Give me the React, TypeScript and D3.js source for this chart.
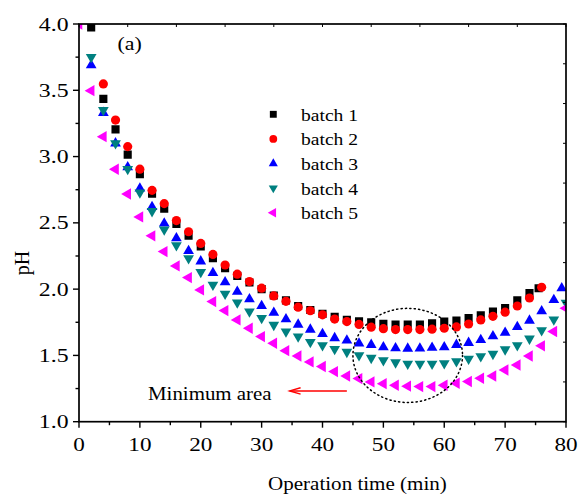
import React from "react";
import * as d3 from "d3";

// ---------- data ----------
const times1 = [2, 4, 6, 8, 10, 12, 14, 16, 18, 20, 22, 24, 26, 28, 30, 32, 34, 36, 38, 40, 42, 44, 46, 48, 50, 52, 54, 56, 58, 60, 62, 64, 66, 68, 70, 72, 74, 75.5];
const batch1 = [3.975, 3.435, 3.205, 3.015, 2.868, 2.72, 2.607, 2.492, 2.403, 2.322, 2.233, 2.158, 2.1, 2.05, 2.0, 1.952, 1.915, 1.873, 1.843, 1.813, 1.792, 1.768, 1.758, 1.75, 1.738, 1.732, 1.732, 1.732, 1.743, 1.755, 1.762, 1.782, 1.802, 1.83, 1.858, 1.916, 1.97, 2.007];

const times2 = [4, 6, 8, 10, 12, 14, 16, 18, 20, 22, 24, 26, 28, 30, 32, 34, 36, 38, 40, 42, 44, 46, 48, 50, 52, 54, 56, 58, 60, 62, 64, 66, 68, 70, 72, 74, 76];
const batch2 = [3.548, 3.275, 3.075, 2.905, 2.745, 2.645, 2.517, 2.433, 2.345, 2.262, 2.182, 2.113, 2.057, 2.007, 1.949, 1.908, 1.864, 1.837, 1.806, 1.774, 1.755, 1.734, 1.713, 1.702, 1.695, 1.695, 1.695, 1.698, 1.705, 1.715, 1.737, 1.768, 1.795, 1.826, 1.873, 1.933, 2.014];

const times3 = [2, 4, 6, 8, 10, 12, 14, 16, 18, 20, 22, 24, 26, 28, 30, 32, 34, 36, 38, 40, 42, 44, 46, 48, 50, 52, 54, 56, 58, 60, 62, 64, 66, 68, 70, 72, 74, 76, 78, 79.3];
const batch3 = [3.69, 3.33, 3.1, 2.92, 2.76, 2.62, 2.495, 2.384, 2.288, 2.21, 2.122, 2.052, 1.981, 1.924, 1.873, 1.823, 1.773, 1.733, 1.695, 1.662, 1.631, 1.613, 1.59, 1.58, 1.562, 1.555, 1.552, 1.553, 1.558, 1.562, 1.58, 1.595, 1.617, 1.645, 1.672, 1.715, 1.763, 1.833, 1.919, 2.007];

const times4 = [2, 4, 6, 8, 10, 12, 14, 16, 18, 20, 22, 24, 26, 28, 30, 32, 34, 36, 38, 40, 42, 44, 46, 48, 50, 52, 54, 56, 58, 60, 62, 64, 66, 68, 70, 72, 74, 76, 78, 80];
const batch4 = [3.75, 3.35, 3.1, 2.905, 2.728, 2.588, 2.45, 2.33, 2.233, 2.128, 2.032, 1.964, 1.898, 1.83, 1.781, 1.73, 1.68, 1.642, 1.6, 1.576, 1.548, 1.526, 1.5, 1.481, 1.463, 1.447, 1.437, 1.437, 1.437, 1.44, 1.455, 1.475, 1.493, 1.511, 1.545, 1.576, 1.626, 1.69, 1.77, 1.897];

const times5 = [0, 2, 4, 6, 8, 10, 12, 14, 16, 18, 20, 22, 24, 26, 28, 30, 32, 34, 36, 38, 40, 42, 44, 46, 48, 50, 52, 54, 56, 58, 60, 62, 64, 66, 68, 70, 72, 74, 76, 78, 80];
const batch5 = [4.0, 3.497, 3.15, 2.904, 2.718, 2.545, 2.402, 2.283, 2.175, 2.087, 1.994, 1.906, 1.838, 1.768, 1.705, 1.642, 1.592, 1.536, 1.496, 1.451, 1.416, 1.378, 1.345, 1.325, 1.3, 1.287, 1.275, 1.268, 1.265, 1.265, 1.275, 1.29, 1.303, 1.328, 1.345, 1.39, 1.428, 1.496, 1.572, 1.68, 1.856];

const seriesNames = ["batch 1", "batch 2", "batch 3", "batch 4", "batch 5"];
const seriesColors = ["#000000", "#ff0000", "#0000ff", "#008080", "#ff00ff"];

const xTicks = [0, 10, 20, 30, 40, 50, 60, 70, 80];
const yTicks = [1.0, 1.5, 2.0, 2.5, 3.0, 3.5, 4.0];

// ---------- layout ----------
const W = 578;
const H = 497;
const left = 79;
const right = 566;
const top = 24;
const bottom = 421.7;
const FONT = "'Liberation Serif', 'Times New Roman', Times, serif";

const x = d3.scaleLinear().domain([0, 80]).range([left, right]);
const y = d3.scaleLinear().domain([1, 4]).range([bottom, top]);

type Shape = { type: d3.SymbolType; size: number; rotate: number };
const shapes: Shape[] = [
  { type: d3.symbolSquare, size: 66, rotate: 0 },
  { type: d3.symbolCircle, size: 66, rotate: 0 },
  { type: d3.symbolTriangle, size: 50, rotate: 0 },
  { type: d3.symbolTriangle, size: 50, rotate: 180 },
  { type: d3.symbolTriangle, size: 56, rotate: -90 },
];

const allTimes = [times1, times2, times3, times4, times5];
const allValues = [batch1, batch2, batch3, batch4, batch5];

function STxt(props: { x: number; y: number; size: number; anchor?: string; sx?: number; children: React.ReactNode; fill?: string }) {
  const sx = props.sx ?? 1.1;
  return (
    <text
      transform={`translate(${props.x},${props.y}) scale(${sx},1)`}
      fontFamily={FONT}
      fontSize={props.size}
      textAnchor={props.anchor ?? "start"}
      fill={props.fill ?? "#000"}
    >
      {props.children}
    </text>
  );
}

export default function App() {
  const xMinor = d3.range(5, 80, 10);
  const yMinor = d3.range(1.25, 4, 0.5);
  const topTicks = d3.range(0, 80.01, 8);
  const rightTicks = d3.range(4, 0.99, -0.3);

  const legendY0 = 114.3;
  const legendDy = 24.6;

  return (
    <svg width={W} height={H} style={{ position: "absolute", left: 0, top: 0, background: "#fff" }}>
      <defs>
        <clipPath id="plotClip">
          <rect x={left} y={top} width={right - left} height={bottom - top} />
        </clipPath>
      </defs>
      <rect x={0} y={0} width={W} height={H} fill="#fff" />

      {/* markers */}
      <g clipPath="url(#plotClip)">
        {allValues.map((vals, si) => {
          const sh = shapes[si];
          const path = d3.symbol().type(sh.type).size(sh.size)() as string;
          return (
            <g key={si}>
              {vals.map((v, i) => (
                <path
                  key={i}
                  d={path}
                  fill={seriesColors[si]}
                  transform={`translate(${x(allTimes[si][i])},${y(v)}) rotate(${sh.rotate})`}
                />
              ))}
            </g>
          );
        })}
      </g>

      {/* frame */}
      <rect x={left} y={top} width={right - left} height={bottom - top} fill="none" stroke="#000" strokeWidth={1.7} />

      {/* bottom ticks */}
      {xTicks.map((t) => (
        <g key={"xt" + t}>
          <line x1={x(t)} x2={x(t)} y1={bottom} y2={bottom + 6} stroke="#000" strokeWidth={1.4} />
          <STxt x={x(t)} y={450.5} size={19} sx={1.22} anchor="middle">{t}</STxt>
        </g>
      ))}
      {xMinor.map((t) => (
        <line key={"xm" + t} x1={x(t)} x2={x(t)} y1={bottom} y2={bottom + 3.5} stroke="#000" strokeWidth={1.4} />
      ))}

      {/* left ticks */}
      {yTicks.map((v) => (
        <g key={"yt" + v}>
          <line x1={left - 6} x2={left} y1={y(v)} y2={y(v)} stroke="#000" strokeWidth={1.4} />
          <STxt x={68.5} y={y(v) + 6.5} size={19} sx={1.25} anchor="end">{v.toFixed(1)}</STxt>
        </g>
      ))}
      {yMinor.map((v) => (
        <line key={"ym" + v} x1={left - 3.5} x2={left} y1={y(v)} y2={y(v)} stroke="#000" strokeWidth={1.4} />
      ))}

      {/* top and right mirror ticks */}
      {topTicks.map((t) => (
        <line key={"tt" + t} x1={x(t)} x2={x(t)} y1={top} y2={top + 3} stroke="#000" strokeWidth={1} />
      ))}
      {rightTicks.map((v) => (
        <line key={"rt" + v} x1={right - 3} x2={right} y1={y(v)} y2={y(v)} stroke="#000" strokeWidth={1} />
      ))}

      {/* axis titles */}
      <text
        transform={`translate(${29},${263}) rotate(-90)`}
        fontFamily={FONT}
        fontSize={20}
        textAnchor="middle"
      >
        pH
      </text>
      <STxt x={268} y={490} size={19.5} sx={1.08}>Operation time (min)</STxt>

      {/* panel label */}
      <STxt x={117.5} y={50} size={19} sx={1.15}>(a)</STxt>

      {/* legend */}
      {seriesNames.map((name, i) => {
        const sh = shapes[i];
        const path = d3.symbol().type(sh.type).size(sh.size * 0.72)() as string;
        const cy = legendY0 + i * legendDy;
        return (
          <g key={"lg" + i}>
            <path d={path} fill={seriesColors[i]} transform={`translate(${273.3},${cy}) rotate(${sh.rotate})`} />
            <STxt x={301} y={cy + 6.4} size={17.5} sx={1.12}>{name}</STxt>
          </g>
        );
      })}

      {/* annotation */}
      <ellipse
        cx={x(54)}
        cy={y(1.5)}
        rx={x(63) - x(54)}
        ry={y(1.5) - y(1.855)}
        fill="none"
        stroke="#000"
        strokeWidth={1.5}
        strokeDasharray="1.2 3.2"
        strokeLinecap="round"
      />
      <line x1={x(44)} x2={x(34.6)} y1={y(1.232)} y2={y(1.232)} stroke="#ff0000" strokeWidth={1.4} />
      <polyline
        points={`${x(36.4)},${y(1.232) - 3.2} ${x(34.6)},${y(1.232)} ${x(36.4)},${y(1.232) + 3.2}`}
        fill="none"
        stroke="#ff0000"
        strokeWidth={1.4}
      />
      <STxt x={148} y={400} size={19} sx={1.1}>Minimum area</STxt>
    </svg>
  );
}
